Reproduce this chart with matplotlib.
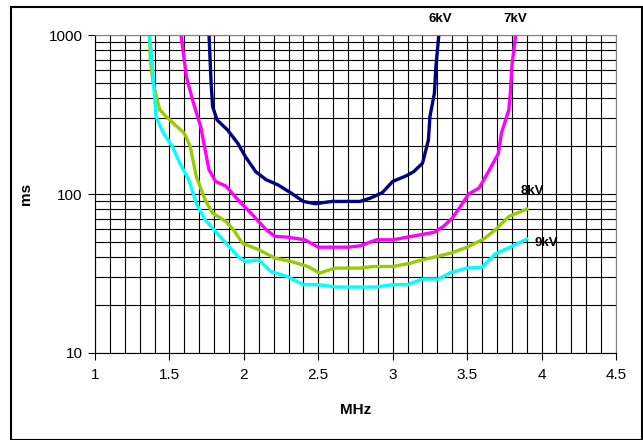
import matplotlib
matplotlib.use('Agg')
import matplotlib.pyplot as plt
from matplotlib.patches import Rectangle
from matplotlib.ticker import MultipleLocator, LogLocator, NullFormatter

plt.rcParams['font.family'] = ['Liberation Sans', 'DejaVu Sans']

# 6kV curve (navy)
x_6kv = [1.766, 1.78, 1.79, 1.82, 1.89, 1.96, 2.01, 2.08, 2.15, 2.23, 2.32, 2.40,
         2.48, 2.59, 2.78, 2.85, 2.93, 3.00, 3.09, 3.14, 3.20, 3.24, 3.25, 3.28,
         3.29, 3.31]
y_6kv = [1000, 497, 355, 292, 253, 208, 172, 138, 123, 114, 101, 89.8,
         86.8, 89.8, 89.8, 94.2, 102, 120, 130, 138, 156, 219, 307, 430,
         632, 1000]

# 7kV curve (magenta)
x_7kv = [1.578, 1.614, 1.655, 1.71, 1.74, 1.766, 1.81, 1.88, 1.96, 2.07, 2.15, 2.21,
         2.29, 2.41, 2.50, 2.70, 2.78, 2.89, 3.00, 3.12, 3.28, 3.34, 3.40, 3.47,
         3.51, 3.58, 3.65, 3.71, 3.73, 3.78, 3.79, 3.80, 3.826]
y_7kv = [1000, 547, 391, 265, 189, 142, 120, 112, 92, 72, 59.6, 54.1,
         53.6, 51.5, 46.3, 46.3, 47.2, 51.5, 51.5, 54, 57.5, 62.5, 70.5, 87.6,
         100, 109, 142, 180, 241, 338, 430, 632, 1000]

# 8kV curve (green)
x_8kv = [1.366, 1.372, 1.39, 1.435, 1.49, 1.60, 1.64, 1.68, 1.74, 1.79, 1.88, 1.93,
         1.99, 2.10, 2.21, 2.32, 2.43, 2.51, 2.61, 2.78, 2.87, 3.00, 3.12, 3.17,
         3.28, 3.39, 3.50, 3.61, 3.69, 3.78, 3.90]
y_8kv = [1000, 700, 497, 338, 299, 241, 199, 129, 92, 75.8, 67.2, 59.6,
         49.1, 44.6, 39.5, 37.6, 35.0, 31.8, 34.2, 34.2, 35.0, 35.0, 36.7, 38.0,
         40.1, 42.5, 46.3, 52.0, 59.6, 72.2, 80.3]

# 9kV curve (cyan)
x_9kv = [1.366, 1.386, 1.41, 1.46, 1.52, 1.57, 1.63, 1.68, 1.74, 1.82, 1.90, 1.96,
         2.01, 2.10, 2.18, 2.29, 2.40, 2.50, 2.62, 2.89, 3.00, 3.10, 3.20, 3.31,
         3.39, 3.50, 3.60, 3.69, 3.80, 3.90]
y_9kv = [1000, 632, 307, 241, 199, 156, 123, 87.6, 68.8, 56.8, 46.8, 40.5,
         37.6, 38.5, 32.6, 30.3, 26.9, 26.9, 26.0, 26.0, 26.9, 26.9, 29.2, 29.2,
         32.1, 34.2, 34.6, 42.1, 46.8, 52.0]

series = [
    (x_6kv, y_6kv, '#000080', '6kV', (3.32, 1262)),
    (x_7kv, y_7kv, '#FF00FF', '7kV', (3.82, 1262)),
    (x_8kv, y_8kv, '#99CC00', '8kV', (3.94, 104)),
    (x_9kv, y_9kv, '#00FFFF', '9kV', (4.03, 49)),
]

fig = plt.figure(figsize=(6.43, 4.40), dpi=100)
ax = fig.add_axes([95 / 643, 1 - 353 / 440, (616 - 95) / 643, (353 - 35) / 440])

ax.set_yscale('log')
ax.set_xlim(1, 4.5)
ax.set_ylim(10, 1000)

ax.xaxis.set_major_locator(MultipleLocator(0.5))
ax.xaxis.set_minor_locator(MultipleLocator(0.1))
ax.yaxis.set_major_locator(LogLocator(base=10))
ax.yaxis.set_minor_locator(LogLocator(base=10, subs=range(2, 10)))
ax.yaxis.set_minor_formatter(NullFormatter())
ax.set_xticks([1, 1.5, 2, 2.5, 3, 3.5, 4, 4.5])
ax.set_xticklabels(['1', '1.5', '2', '2.5', '3', '3.5', '4', '4.5'])
ax.set_yticks([10, 100, 1000])
ax.set_yticklabels(['10', '100', '1000'])

ax.grid(which='both', color='black', linewidth=0.8)
ax.set_axisbelow(True)
ax.tick_params(which='major', length=5, width=0.8, color='black', labelsize=11, pad=6)
ax.tick_params(which='minor', length=0)
ax.tick_params(axis='y', pad=4)

for side in ['top', 'right']:
    ax.spines[side].set_color('#808080')
for side in ['left', 'bottom']:
    ax.spines[side].set_color('black')

for xs, ys, col, lab, pos in series:
    ax.plot(xs, ys, color=col, linewidth=2.4, solid_joinstyle='round')
    ax.text(pos[0], pos[1], lab, fontsize=9.5, fontweight='bold',
            ha='center', va='center', clip_on=False)

ax.set_xlabel('MHz', fontsize=11, fontweight='bold', labelpad=15)
ax.set_ylabel('ms', fontsize=11, fontweight='bold', labelpad=11)

# outer chart border
fig.patches.append(Rectangle((11 / 643, 0), 630.5 / 643, 1 - 7 / 440,
                             transform=fig.transFigure, fill=False,
                             edgecolor='black', linewidth=1.5))

fig.savefig('out.png', dpi=100)
